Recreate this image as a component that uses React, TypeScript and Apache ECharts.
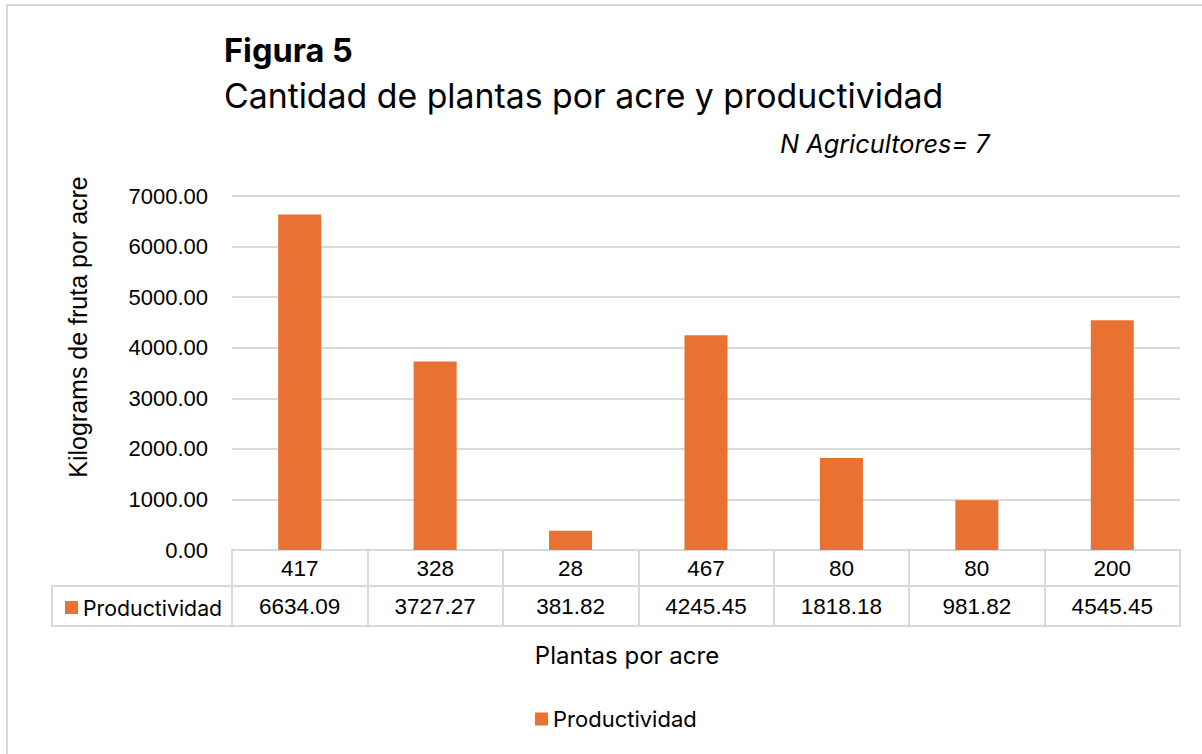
import React, { useEffect, useRef } from "react";
import * as echarts from "echarts";

const plantsPerAcre = ["417", "328", "28", "467", "80", "80", "200"];
const productividad = [6634.09, 3727.27, 381.82, 4245.45, 1818.18, 981.82, 4545.45];
const yTicks = { min: 0, max: 7000, interval: 1000 };
const seriesName = "Productividad";
const titleMain = "Figura 5";
const titleSub = "Cantidad de plantas por acre y productividad";
const note = "N Agricultores= 7";
const yName = "Kilograms de fruta por acre";
const xName = "Plantas por acre";

const ORANGE = "#E97132";
const LINE = "#d9d9d9";
const ARIAL = "'Liberation Sans', Arial, sans-serif";
const APTOS = "Inter, 'Noto Sans', sans-serif";

export default function App() {
  const ref = useRef<HTMLDivElement>(null);
  useEffect(() => {
    document.body.style.margin = "0";
    const chart = echarts.init(ref.current!, null, { renderer: "svg" });
    const gridLeft = 232;
    const gridRight = 1202 - 1180;
    const gridTop = 196;
    const gridBottom = 754 - 550;
    chart.setOption({
      animation: false,
      backgroundColor: "#fff",
      textStyle: { fontFamily: ARIAL },
      title: [
        {
          text: titleMain,
          left: 219,
          top: 29,
          textStyle: { fontFamily: APTOS, fontWeight: "bold", fontSize: 32.5, color: "#000" },
        },
        {
          text: titleSub,
          left: 219,
          top: 73,
          textStyle: { fontFamily: APTOS, fontWeight: "normal", fontSize: 33.8, color: "#000" },
        },
        {
          text: note,
          left: 775,
          top: 126,
          textStyle: { fontFamily: APTOS, fontWeight: "normal", fontStyle: "italic", fontSize: 25.3, color: "#000" },
        },
      ],
      legend: [
        {
          data: [seriesName],
          left: 530,
          top: 703,
          icon: "rect",
          itemWidth: 13,
          itemHeight: 13,
          itemGap: 6,
          itemStyle: { borderWidth: 0 },
          textStyle: { fontFamily: APTOS, fontSize: 22, color: "#000" },
          selectedMode: false,
        },
        {
          data: [seriesName],
          left: 60,
          top: 592,
          icon: "rect",
          itemWidth: 13,
          itemHeight: 13,
          itemGap: 6,
          itemStyle: { borderWidth: 0 },
          textStyle: { fontFamily: APTOS, fontSize: 21.3, color: "#000" },
          selectedMode: false,
        },
      ],
      grid: { left: gridLeft, right: gridRight, top: gridTop, bottom: gridBottom },
      xAxis: [
        {
          type: "category",
          data: plantsPerAcre,
          position: "bottom",
          axisLine: { show: true, lineStyle: { color: LINE, width: 2 } },
          axisTick: { show: true, length: 76, interval: 0, lineStyle: { color: LINE, width: 2 } },
          axisLabel: {
            interval: 0,
            margin: 0,
            formatter: (v: string, i: number) =>
              `{a|${plantsPerAcre[i]}}\n{b|${productividad[i].toFixed(2)}}`,
            rich: {
              a: { fontFamily: ARIAL, fontSize: 22.5, color: "#000", lineHeight: 37, height: 37 },
              b: { fontFamily: ARIAL, fontSize: 22.5, color: "#000", lineHeight: 39, height: 39 },
            },
          },
        },
        {
          type: "category",
          data: plantsPerAcre,
          position: "bottom",
          offset: 36,
          axisLine: { show: true, lineStyle: { color: LINE, width: 2 } },
          axisTick: { show: false },
          axisLabel: { show: false },
        },
        {
          type: "category",
          data: plantsPerAcre,
          position: "bottom",
          offset: 76,
          axisLine: { show: true, lineStyle: { color: LINE, width: 2 } },
          axisTick: { show: false },
          axisLabel: { show: false },
        },
      ],
      yAxis: {
        type: "value",
        min: yTicks.min,
        max: yTicks.max,
        interval: yTicks.interval,
        axisLine: { show: false },
        axisTick: { show: false },
        axisLabel: {
          margin: 24,
          fontFamily: ARIAL,
          fontSize: 22,
          color: "#000",
          formatter: (v: number) => v.toFixed(2),
        },
        splitLine: { lineStyle: { color: LINE, width: 2 } },
      },
      series: [
        {
          name: seriesName,
          type: "bar",
          xAxisIndex: 0,
          data: productividad,
          barWidth: 43,
          itemStyle: { color: ORANGE },
        },
      ],
      graphic: [
        {
          type: "rect",
          shape: { x: 7, y: 5, width: 1220, height: 800 },
          style: { fill: "none", stroke: LINE, lineWidth: 2 },
          silent: true,
          z: -10,
        },
        {
          type: "rect",
          shape: { x: 52, y: 586, width: 180, height: 40 },
          style: { fill: "none", stroke: LINE, lineWidth: 2 },
          silent: true,
        },
        {
          type: "text",
          x: 78,
          y: 327,
          rotation: Math.PI / 2,
          style: {
            text: yName,
            fontFamily: ARIAL,
            fontSize: 25,
            fill: "#000",
            align: "center",
            verticalAlign: "middle",
          },
        },
        {
          type: "text",
          x: 627,
          y: 655,
          style: {
            text: xName,
            fontFamily: APTOS,
            fontSize: 24,
            fill: "#000",
            align: "center",
            verticalAlign: "middle",
          },
        },
      ],
    });
    return () => chart.dispose();
  }, []);
  return <div ref={ref} style={{ width: 1202, height: 754 }} />;
}
